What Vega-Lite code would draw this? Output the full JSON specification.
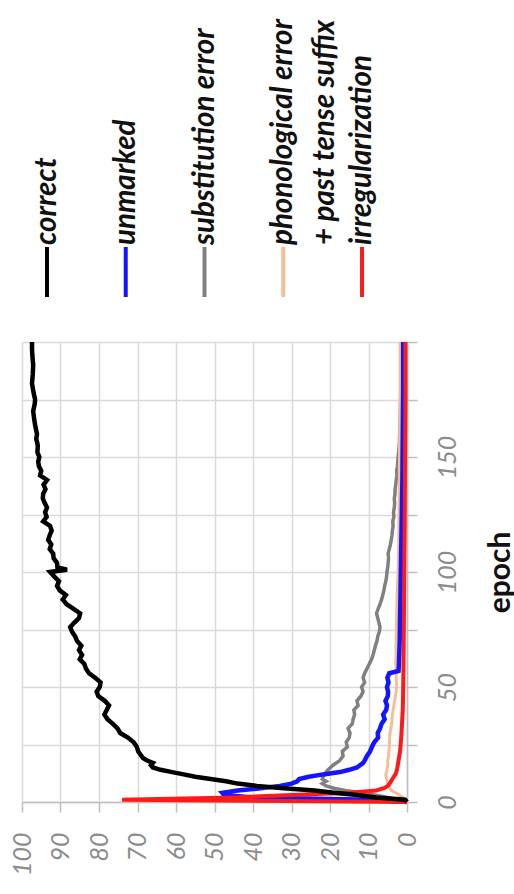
{
"$schema": "https://vega.github.io/schema/vega-lite/v6.json",
"background": "white",
"padding": {"left": 10, "top": 8, "right": 0, "bottom": 0},
"spacing": 42,
"bounds": "flush",
"config": {"view": {"stroke": null}, "font": "Lato"},
"datasets": {
"legend": [
{"series": "correct", "label": "correct", "label2": ""},
{"series": "unmarked", "label": "unmarked", "label2": ""},
{"series": "substitution error", "label": "substitution error", "label2": ""},
{"series": "phonological error + past tense suffix", "label": "phonological error", "label2": "+ past tense suffix"},
{"series": "irregularization", "label": "irregularization", "label2": ""}
],
"lines": [
{"series":"correct","epoch":0,"percent":0},{"series":"correct","epoch":1,"percent":0.5},{"series":"correct","epoch":2,"percent":8},{"series":"correct","epoch":3,"percent":13},{"series":"correct","epoch":4,"percent":19},{"series":"correct","epoch":5,"percent":24},{"series":"correct","epoch":6,"percent":32},{"series":"correct","epoch":7,"percent":39},{"series":"correct","epoch":8,"percent":44},{"series":"correct","epoch":9,"percent":47},{"series":"correct","epoch":10,"percent":51},{"series":"correct","epoch":11,"percent":55},{"series":"correct","epoch":12,"percent":58},{"series":"correct","epoch":13,"percent":61},{"series":"correct","epoch":14,"percent":64},{"series":"correct","epoch":15,"percent":66},{"series":"correct","epoch":16,"percent":66.5},{"series":"correct","epoch":17,"percent":66},{"series":"correct","epoch":18,"percent":67.5},{"series":"correct","epoch":19,"percent":68.5},{"series":"correct","epoch":20,"percent":69},{"series":"correct","epoch":22,"percent":69.8},{"series":"correct","epoch":24,"percent":70.2},{"series":"correct","epoch":26,"percent":71},{"series":"correct","epoch":28,"percent":72.5},{"series":"correct","epoch":30,"percent":74.5},{"series":"correct","epoch":32,"percent":75.2},{"series":"correct","epoch":34,"percent":76.4},{"series":"correct","epoch":36,"percent":77.8},{"series":"correct","epoch":38,"percent":78.6},{"series":"correct","epoch":40,"percent":78},{"series":"correct","epoch":42,"percent":77.4},{"series":"correct","epoch":44,"percent":78.5},{"series":"correct","epoch":46,"percent":80.2},{"series":"correct","epoch":48,"percent":80.6},{"series":"correct","epoch":50,"percent":79.8},{"series":"correct","epoch":52,"percent":79.6},{"series":"correct","epoch":54,"percent":81},{"series":"correct","epoch":56,"percent":82.6},{"series":"correct","epoch":58,"percent":83.4},{"series":"correct","epoch":60,"percent":83.8},{"series":"correct","epoch":62,"percent":85},{"series":"correct","epoch":64,"percent":84.4},{"series":"correct","epoch":66,"percent":85.2},{"series":"correct","epoch":68,"percent":84.6},{"series":"correct","epoch":70,"percent":85.7},{"series":"correct","epoch":72,"percent":86.2},{"series":"correct","epoch":74,"percent":87},{"series":"correct","epoch":76,"percent":87.5},{"series":"correct","epoch":78,"percent":86.4},{"series":"correct","epoch":80,"percent":85.2},{"series":"correct","epoch":82,"percent":84.9},{"series":"correct","epoch":84,"percent":86.6},{"series":"correct","epoch":86,"percent":88.4},{"series":"correct","epoch":88,"percent":89.4},{"series":"correct","epoch":90,"percent":88.6},{"series":"correct","epoch":92,"percent":90.2},{"series":"correct","epoch":94,"percent":90.9},{"series":"correct","epoch":96,"percent":90.4},{"series":"correct","epoch":98,"percent":91.6},{"series":"correct","epoch":100,"percent":92.7},{"series":"correct","epoch":101,"percent":88.3},{"series":"correct","epoch":102,"percent":90.8},{"series":"correct","epoch":104,"percent":90.9},{"series":"correct","epoch":106,"percent":91.8},{"series":"correct","epoch":108,"percent":91.9},{"series":"correct","epoch":110,"percent":92.8},{"series":"correct","epoch":112,"percent":92.4},{"series":"correct","epoch":114,"percent":93.2},{"series":"correct","epoch":116,"percent":92.8},{"series":"correct","epoch":118,"percent":92.3},{"series":"correct","epoch":120,"percent":92.7},{"series":"correct","epoch":122,"percent":94.5},{"series":"correct","epoch":124,"percent":93.6},{"series":"correct","epoch":126,"percent":94},{"series":"correct","epoch":128,"percent":93.5},{"series":"correct","epoch":130,"percent":94.1},{"series":"correct","epoch":132,"percent":94.6},{"series":"correct","epoch":134,"percent":94.5},{"series":"correct","epoch":136,"percent":93.9},{"series":"correct","epoch":138,"percent":94.4},{"series":"correct","epoch":140,"percent":93.5},{"series":"correct","epoch":142,"percent":95.3},{"series":"correct","epoch":144,"percent":95},{"series":"correct","epoch":146,"percent":95.6},{"series":"correct","epoch":148,"percent":95.8},{"series":"correct","epoch":150,"percent":95.5},{"series":"correct","epoch":152,"percent":96},{"series":"correct","epoch":155,"percent":95.9},{"series":"correct","epoch":158,"percent":96.3},{"series":"correct","epoch":160,"percent":96.1},{"series":"correct","epoch":163,"percent":96.5},{"series":"correct","epoch":166,"percent":96.8},{"series":"correct","epoch":170,"percent":97.1},{"series":"correct","epoch":173,"percent":96.7},{"series":"correct","epoch":175,"percent":96.6},{"series":"correct","epoch":178,"percent":97},{"series":"correct","epoch":182,"percent":97.4},{"series":"correct","epoch":186,"percent":97.2},{"series":"correct","epoch":190,"percent":97.1},{"series":"correct","epoch":194,"percent":97.3},{"series":"correct","epoch":197,"percent":97.4},{"series":"correct","epoch":200,"percent":97.4},
{"series":"unmarked","epoch":0,"percent":0},{"series":"unmarked","epoch":1,"percent":10},{"series":"unmarked","epoch":2,"percent":40},{"series":"unmarked","epoch":3,"percent":47.5},{"series":"unmarked","epoch":4,"percent":48},{"series":"unmarked","epoch":5,"percent":44},{"series":"unmarked","epoch":6,"percent":38},{"series":"unmarked","epoch":7,"percent":33},{"series":"unmarked","epoch":8,"percent":30},{"series":"unmarked","epoch":9,"percent":28.5},{"series":"unmarked","epoch":10,"percent":28},{"series":"unmarked","epoch":11,"percent":25.5},{"series":"unmarked","epoch":12,"percent":21.8},{"series":"unmarked","epoch":13,"percent":17.4},{"series":"unmarked","epoch":14,"percent":15},{"series":"unmarked","epoch":15,"percent":13},{"series":"unmarked","epoch":16,"percent":12.2},{"series":"unmarked","epoch":17,"percent":11.4},{"series":"unmarked","epoch":18,"percent":11},{"series":"unmarked","epoch":20,"percent":10.4},{"series":"unmarked","epoch":22,"percent":9.6},{"series":"unmarked","epoch":24,"percent":9.1},{"series":"unmarked","epoch":26,"percent":8.5},{"series":"unmarked","epoch":28,"percent":7.5},{"series":"unmarked","epoch":30,"percent":7.6},{"series":"unmarked","epoch":32,"percent":7},{"series":"unmarked","epoch":34,"percent":6.6},{"series":"unmarked","epoch":36,"percent":5.8},{"series":"unmarked","epoch":38,"percent":6.2},{"series":"unmarked","epoch":40,"percent":5.4},{"series":"unmarked","epoch":42,"percent":5.2},{"series":"unmarked","epoch":44,"percent":5.6},{"series":"unmarked","epoch":46,"percent":5},{"series":"unmarked","epoch":48,"percent":4.9},{"series":"unmarked","epoch":50,"percent":5.2},{"series":"unmarked","epoch":52,"percent":4.8},{"series":"unmarked","epoch":54,"percent":5.1},{"series":"unmarked","epoch":56,"percent":4.6},{"series":"unmarked","epoch":57,"percent":2.2},{"series":"unmarked","epoch":60,"percent":2.1},{"series":"unmarked","epoch":70,"percent":1.9},{"series":"unmarked","epoch":80,"percent":1.8},{"series":"unmarked","epoch":90,"percent":1.7},{"series":"unmarked","epoch":100,"percent":1.6},{"series":"unmarked","epoch":120,"percent":1.4},{"series":"unmarked","epoch":140,"percent":1.2},{"series":"unmarked","epoch":160,"percent":1.1},{"series":"unmarked","epoch":180,"percent":1},{"series":"unmarked","epoch":200,"percent":1},
{"series":"substitution error","epoch":0,"percent":0},{"series":"substitution error","epoch":1,"percent":2},{"series":"substitution error","epoch":2,"percent":5},{"series":"substitution error","epoch":3,"percent":8},{"series":"substitution error","epoch":4,"percent":12},{"series":"substitution error","epoch":5,"percent":16},{"series":"substitution error","epoch":6,"percent":19},{"series":"substitution error","epoch":7,"percent":21},{"series":"substitution error","epoch":8,"percent":22},{"series":"substitution error","epoch":9,"percent":21},{"series":"substitution error","epoch":10,"percent":22},{"series":"substitution error","epoch":12,"percent":21.5},{"series":"substitution error","epoch":14,"percent":20.5},{"series":"substitution error","epoch":16,"percent":19.2},{"series":"substitution error","epoch":18,"percent":17.5},{"series":"substitution error","epoch":20,"percent":16.6},{"series":"substitution error","epoch":22,"percent":16.8},{"series":"substitution error","epoch":24,"percent":15.5},{"series":"substitution error","epoch":26,"percent":15.8},{"series":"substitution error","epoch":28,"percent":15},{"series":"substitution error","epoch":30,"percent":14.8},{"series":"substitution error","epoch":32,"percent":15.3},{"series":"substitution error","epoch":34,"percent":14.2},{"series":"substitution error","epoch":36,"percent":14},{"series":"substitution error","epoch":38,"percent":13.6},{"series":"substitution error","epoch":40,"percent":13.8},{"series":"substitution error","epoch":42,"percent":12.7},{"series":"substitution error","epoch":44,"percent":13},{"series":"substitution error","epoch":46,"percent":12},{"series":"substitution error","epoch":48,"percent":11.4},{"series":"substitution error","epoch":50,"percent":11.8},{"series":"substitution error","epoch":52,"percent":11},{"series":"substitution error","epoch":54,"percent":11.4},{"series":"substitution error","epoch":56,"percent":11},{"series":"substitution error","epoch":58,"percent":10.4},{"series":"substitution error","epoch":60,"percent":9.8},{"series":"substitution error","epoch":62,"percent":9.2},{"series":"substitution error","epoch":64,"percent":8.8},{"series":"substitution error","epoch":66,"percent":8.5},{"series":"substitution error","epoch":68,"percent":8.2},{"series":"substitution error","epoch":70,"percent":7.8},{"series":"substitution error","epoch":72,"percent":7.6},{"series":"substitution error","epoch":74,"percent":7.2},{"series":"substitution error","epoch":76,"percent":7},{"series":"substitution error","epoch":78,"percent":7.3},{"series":"substitution error","epoch":80,"percent":7.6},{"series":"substitution error","epoch":82,"percent":7.9},{"series":"substitution error","epoch":84,"percent":7.5},{"series":"substitution error","epoch":86,"percent":7},{"series":"substitution error","epoch":88,"percent":6.6},{"series":"substitution error","epoch":90,"percent":6.3},{"series":"substitution error","epoch":92,"percent":6},{"series":"substitution error","epoch":94,"percent":5.8},{"series":"substitution error","epoch":96,"percent":5.5},{"series":"substitution error","epoch":98,"percent":5.3},{"series":"substitution error","epoch":100,"percent":5.2},{"series":"substitution error","epoch":102,"percent":5},{"series":"substitution error","epoch":104,"percent":4.9},{"series":"substitution error","epoch":106,"percent":4.8},{"series":"substitution error","epoch":108,"percent":4.9},{"series":"substitution error","epoch":110,"percent":4.6},{"series":"substitution error","epoch":112,"percent":4.3},{"series":"substitution error","epoch":114,"percent":4.1},{"series":"substitution error","epoch":116,"percent":3.9},{"series":"substitution error","epoch":118,"percent":3.8},{"series":"substitution error","epoch":120,"percent":3.6},{"series":"substitution error","epoch":122,"percent":3.7},{"series":"substitution error","epoch":124,"percent":3.4},{"series":"substitution error","epoch":126,"percent":3.5},{"series":"substitution error","epoch":128,"percent":3.3},{"series":"substitution error","epoch":130,"percent":3.2},{"series":"substitution error","epoch":132,"percent":3.3},{"series":"substitution error","epoch":134,"percent":3.1},{"series":"substitution error","epoch":136,"percent":3.1},{"series":"substitution error","epoch":138,"percent":2.9},{"series":"substitution error","epoch":140,"percent":2.8},{"series":"substitution error","epoch":142,"percent":2.6},{"series":"substitution error","epoch":144,"percent":2.7},{"series":"substitution error","epoch":146,"percent":2.5},{"series":"substitution error","epoch":148,"percent":2.4},{"series":"substitution error","epoch":150,"percent":2.3},{"series":"substitution error","epoch":155,"percent":2},{"series":"substitution error","epoch":160,"percent":1.9},{"series":"substitution error","epoch":170,"percent":1.7},{"series":"substitution error","epoch":180,"percent":1.6},{"series":"substitution error","epoch":190,"percent":1.5},{"series":"substitution error","epoch":200,"percent":1.4},
{"series":"phonological error + past tense suffix","epoch":0,"percent":0},{"series":"phonological error + past tense suffix","epoch":1,"percent":0.5},{"series":"phonological error + past tense suffix","epoch":2,"percent":1},{"series":"phonological error + past tense suffix","epoch":3,"percent":2},{"series":"phonological error + past tense suffix","epoch":4,"percent":3},{"series":"phonological error + past tense suffix","epoch":5,"percent":4},{"series":"phonological error + past tense suffix","epoch":6,"percent":4.5},{"series":"phonological error + past tense suffix","epoch":8,"percent":5},{"series":"phonological error + past tense suffix","epoch":10,"percent":5.3},{"series":"phonological error + past tense suffix","epoch":12,"percent":5.5},{"series":"phonological error + past tense suffix","epoch":14,"percent":5.2},{"series":"phonological error + past tense suffix","epoch":16,"percent":5},{"series":"phonological error + past tense suffix","epoch":18,"percent":5},{"series":"phonological error + past tense suffix","epoch":20,"percent":4.8},{"series":"phonological error + past tense suffix","epoch":24,"percent":4.6},{"series":"phonological error + past tense suffix","epoch":28,"percent":4.5},{"series":"phonological error + past tense suffix","epoch":30,"percent":4.4},{"series":"phonological error + past tense suffix","epoch":34,"percent":4},{"series":"phonological error + past tense suffix","epoch":38,"percent":3.8},{"series":"phonological error + past tense suffix","epoch":40,"percent":3.6},{"series":"phonological error + past tense suffix","epoch":44,"percent":3.2},{"series":"phonological error + past tense suffix","epoch":48,"percent":2.8},{"series":"phonological error + past tense suffix","epoch":50,"percent":2.7},{"series":"phonological error + past tense suffix","epoch":60,"percent":2.9},{"series":"phonological error + past tense suffix","epoch":70,"percent":2.8},{"series":"phonological error + past tense suffix","epoch":80,"percent":2.7},{"series":"phonological error + past tense suffix","epoch":90,"percent":2.6},{"series":"phonological error + past tense suffix","epoch":100,"percent":2.3},{"series":"phonological error + past tense suffix","epoch":110,"percent":2.2},{"series":"phonological error + past tense suffix","epoch":120,"percent":2.1},{"series":"phonological error + past tense suffix","epoch":140,"percent":2},{"series":"phonological error + past tense suffix","epoch":160,"percent":1.9},{"series":"phonological error + past tense suffix","epoch":180,"percent":1.8},{"series":"phonological error + past tense suffix","epoch":200,"percent":1.8},
{"series":"irregularization","epoch":0,"percent":0},{"series":"irregularization","epoch":1,"percent":74},{"series":"irregularization","epoch":2,"percent":45},{"series":"irregularization","epoch":3,"percent":30},{"series":"irregularization","epoch":4,"percent":15},{"series":"irregularization","epoch":5,"percent":8},{"series":"irregularization","epoch":6,"percent":6},{"series":"irregularization","epoch":7,"percent":5},{"series":"irregularization","epoch":8,"percent":4.5},{"series":"irregularization","epoch":10,"percent":3.8},{"series":"irregularization","epoch":12,"percent":3},{"series":"irregularization","epoch":14,"percent":2.6},{"series":"irregularization","epoch":18,"percent":2.2},{"series":"irregularization","epoch":22,"percent":1.8},{"series":"irregularization","epoch":28,"percent":1.5},{"series":"irregularization","epoch":34,"percent":1.3},{"series":"irregularization","epoch":40,"percent":1.1},{"series":"irregularization","epoch":48,"percent":1},{"series":"irregularization","epoch":60,"percent":0.9},{"series":"irregularization","epoch":80,"percent":0.8},{"series":"irregularization","epoch":100,"percent":0.7},{"series":"irregularization","epoch":120,"percent":0.6},{"series":"irregularization","epoch":150,"percent":0.5},{"series":"irregularization","epoch":175,"percent":0.4},{"series":"irregularization","epoch":200,"percent":0.4}
]
},
"vconcat": [
{
"width": 365,
"height": 292,
"data": {"name": "legend"},
"encoding": {
"x": {"field": "series", "type": "nominal", "scale": {"type": "point", "domain": ["correct", "unmarked", "substitution error", "phonological error + past tense suffix", "irregularization"], "padding": 0.317}, "axis": null},
"color": {"field": "series", "type": "nominal", "scale": {"domain": ["correct", "unmarked", "substitution error", "phonological error + past tense suffix", "irregularization"], "range": ["#000000", "#1414ff", "#808080", "#f6be98", "#ff1a1a"]}, "legend": null}
},
"layer": [
{"mark": {"type": "tick", "orient": "vertical", "size": 50, "thickness": 4, "yOffset": 118, "opacity": 1}},
{"mark": {"type": "text", "angle": 270, "align": "left", "baseline": "middle", "dx": -91, "font": "Lato", "fontSize": 29.5, "fontWeight": "bold", "fontStyle": "italic"}, "encoding": {"text": {"field": "label"}, "color": {"value": "#111111"}}},
{"mark": {"type": "text", "angle": 270, "align": "left", "baseline": "middle", "dx": -91, "dy": 42, "font": "Lato", "fontSize": 29.5, "fontWeight": "bold", "fontStyle": "italic"}, "encoding": {"text": {"field": "label2"}, "color": {"value": "#111111"}}}
]
},
{
"width": 385,
"height": 460,
"data": {"name": "lines"},
"encoding": {
"x": {"field": "percent", "type": "quantitative", "scale": {"domain": [0, 100], "reverse": true, "nice": false}, "axis": {"orient": "bottom", "values": [0,10,20,30,40,50,60,70,80,90,100], "grid": true, "gridColor": "#d9d9d9", "gridWidth": 1.5, "domainColor": "#bfbfbf", "domainWidth": 1.5, "tickColor": "#bfbfbf", "tickSize": 10, "tickWidth": 1.5, "labelAngle": 270, "labelFont": "Lato", "labelFontStyle": "italic", "labelFontSize": 25, "labelColor": "#8c8c8c", "labelPadding": 20, "labelFlush": false, "labelOverlap": false, "title": null}},
"y": {"field": "epoch", "type": "quantitative", "scale": {"domain": [0, 200], "nice": false}, "axis": {"orient": "right", "values": [0,25,50,75,100,125,150,175,200], "labelExpr": "datum.value % 50 === 0 && datum.value < 200 ? datum.label : ''", "grid": true, "gridColor": "#d9d9d9", "gridWidth": 1.5, "domainColor": "#bfbfbf", "domainWidth": 1.5, "tickColor": "#bfbfbf", "tickSize": 10, "tickWidth": 1.5, "labelAngle": 270, "labelFont": "Lato", "labelFontStyle": "italic", "labelFontSize": 25, "labelColor": "#8c8c8c", "labelPadding": 18, "labelFlush": false, "labelOverlap": false, "title": "epoch", "titleAngle": 270, "titleFont": "Lato", "titleFontSize": 30, "titleFontWeight": "bold", "titleColor": "#111111", "titlePadding": 55}},
"order": {"field": "epoch", "type": "quantitative"},
"color": {"field": "series", "type": "nominal", "legend": null}
},
"layer": [
{"transform": [{"filter": "datum.series === 'substitution error'"}], "mark": {"type": "line", "strokeWidth": 3.5}},
{"transform": [{"filter": "datum.series === 'phonological error + past tense suffix'"}], "mark": {"type": "line", "strokeWidth": 3}},
{"transform": [{"filter": "datum.series === 'unmarked'"}], "mark": {"type": "line", "strokeWidth": 4.5}},
{"transform": [{"filter": "datum.series === 'irregularization'"}], "mark": {"type": "line", "strokeWidth": 4}},
{"transform": [{"filter": "datum.series === 'correct'"}], "mark": {"type": "line", "strokeWidth": 4.5}}
]
}
]
}
